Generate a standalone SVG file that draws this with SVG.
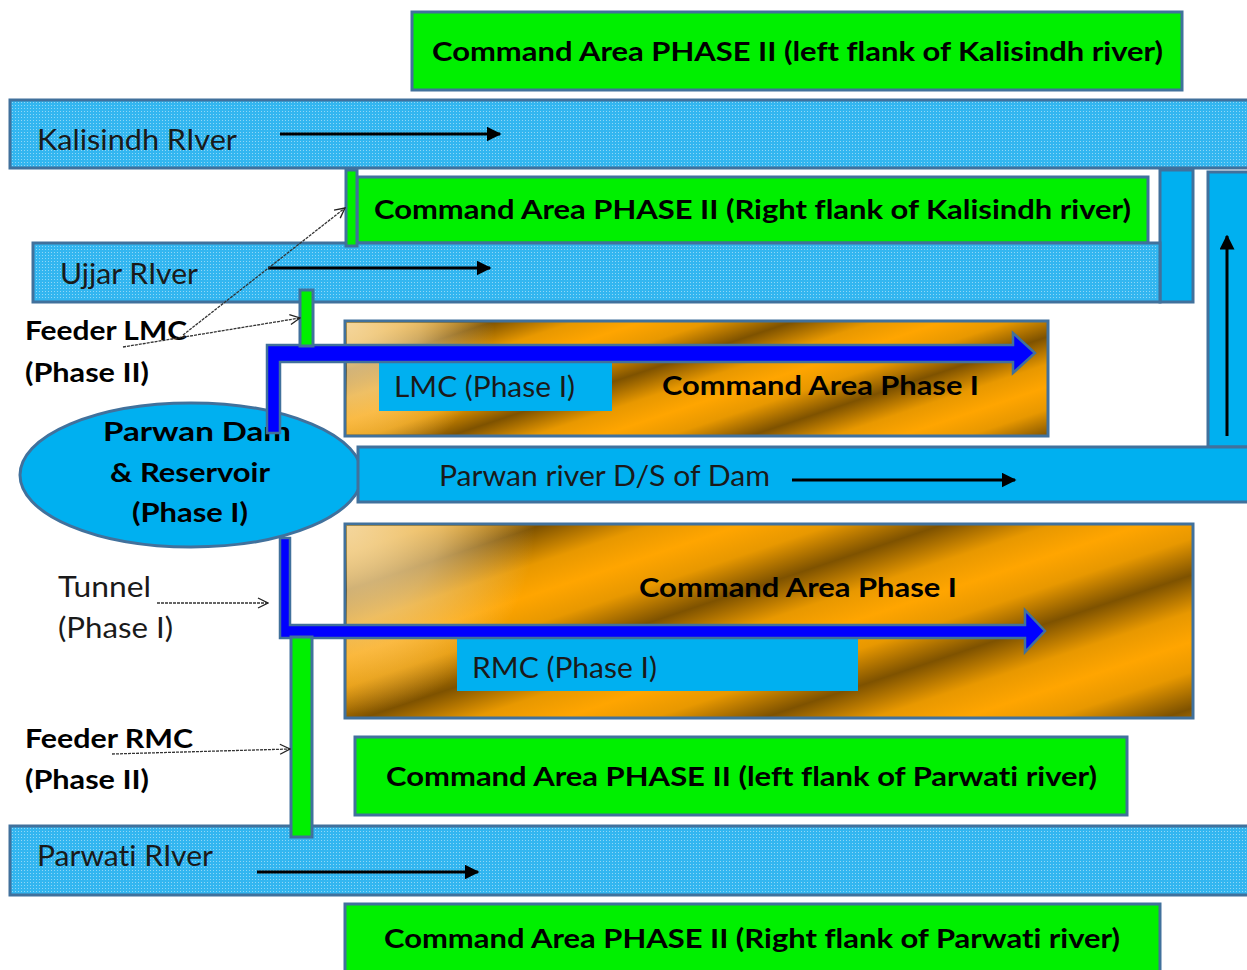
<svg xmlns="http://www.w3.org/2000/svg" width="1247" height="970" viewBox="0 0 1247 970">
<defs>
<pattern id="dots" width="3" height="3" patternUnits="userSpaceOnUse">
<rect x="0" y="0" width="1" height="1" fill="#FFFFFF" fill-opacity="0.45"/>
</pattern>
<linearGradient id="gold1" gradientUnits="userSpaceOnUse" x1="345" y1="321" x2="360" y2="366" spreadMethod="reflect">
<stop offset="0" stop-color="#FFA500"/>
<stop offset="0.45" stop-color="#E89800"/>
<stop offset="1" stop-color="#7E5200"/>
</linearGradient>
<linearGradient id="gold2" gradientUnits="userSpaceOnUse" x1="345" y1="524" x2="365" y2="584" spreadMethod="reflect">
<stop offset="0" stop-color="#FFA500"/>
<stop offset="0.45" stop-color="#E89800"/>
<stop offset="1" stop-color="#7E5200"/>
</linearGradient>
<radialGradient id="pale1" gradientUnits="userSpaceOnUse" cx="345" cy="321" r="150">
<stop offset="0" stop-color="#F3D9A6" stop-opacity="0.95"/>
<stop offset="0.5" stop-color="#F3D9A6" stop-opacity="0.6"/>
<stop offset="1" stop-color="#F3D9A6" stop-opacity="0"/>
</radialGradient>
<radialGradient id="pale2" gradientUnits="userSpaceOnUse" cx="345" cy="524" r="190">
<stop offset="0" stop-color="#F3D9A6" stop-opacity="0.95"/>
<stop offset="0.5" stop-color="#F3D9A6" stop-opacity="0.6"/>
<stop offset="1" stop-color="#F3D9A6" stop-opacity="0"/>
</radialGradient>
<marker id="ah" viewBox="0 0 10 10" refX="9" refY="5" markerWidth="5" markerHeight="5" orient="auto" markerUnits="strokeWidth">
<path d="M0,0 L10,5 L0,10 Z" fill="#000"/>
</marker>
<marker id="open" viewBox="0 0 12 12" refX="11" refY="6" markerWidth="12" markerHeight="12" orient="auto" markerUnits="userSpaceOnUse">
<path d="M1,1 L11,6 L1,11" fill="none" stroke="#222" stroke-width="1.3"/>
</marker>
<style>
.bx{stroke:#41719C;stroke-width:3}
.green{fill:#00F000}
.river{fill:#33B6F0}
.tex{fill:url(#dots)}
.solid{fill:#00B0F0}
.canal{fill:#0000FF;stroke:#41719C;stroke-width:2.5}
.t{font-family:Lato,"Liberation Sans",sans-serif;fill:#000;font-variant-ligatures:none}
.b{font-weight:bold}
.big{font-size:27px}
.reg{font-size:28px;fill:#1a1a1a}
.flow{stroke:#000;stroke-width:3;fill:none;marker-end:url(#ah)}
.lbl{stroke:#333;stroke-width:1.3;fill:none;stroke-dasharray:3 1;marker-end:url(#open)}
</style>
</defs>
<rect width="1247" height="970" fill="#fff"/>

<g id="ca-left-kalisindh">
<rect class="bx green" x="412" y="12" width="770" height="78"/>
<text class="t b big" x="432" y="61" textLength="731" lengthAdjust="spacingAndGlyphs">Command Area PHASE II (left flank of Kalisindh river)</text>
</g>

<g id="kalisindh-river">
<rect class="bx river" x="10" y="100" width="1250" height="68"/>
<rect class="tex" x="12" y="102" width="1246" height="64"/>
<text class="t reg" x="37" y="150" textLength="200" lengthAdjust="spacingAndGlyphs">Kalisindh RIver</text>
</g>

<g id="kalisindh-link">
<rect class="bx solid" x="1160" y="170" width="33" height="132"/>
</g>

<g id="right-river">
<rect class="bx solid" x="1208" y="172" width="45" height="275"/>
</g>

<g id="ca-right-kalisindh">
<rect class="bx green" x="357" y="177" width="791" height="66"/>
<text class="t b big" x="374" y="219" textLength="757" lengthAdjust="spacingAndGlyphs">Command Area PHASE II (Right flank of Kalisindh river)</text>
</g>

<g id="ujjar-river">
<rect class="bx river" x="33" y="243" width="1127" height="59"/>
<rect class="tex" x="35" y="245" width="1123" height="55"/>
<text class="t reg" x="60" y="284" textLength="138" lengthAdjust="spacingAndGlyphs">Ujjar RIver</text>
</g>

<g id="feeder-lmc-kalisindh-bar">
<rect class="bx green" x="346" y="170" width="11" height="76"/>
</g>

<g id="ca-phase1-lmc">
<rect class="bx" x="345" y="321" width="703" height="115" fill="url(#gold1)"/>
<rect x="347" y="323" width="200" height="111" fill="url(#pale1)"/>
<text class="t b big" x="662" y="395" textLength="317" lengthAdjust="spacingAndGlyphs">Command Area Phase I</text>
</g>

<g id="lmc-label">
<rect class="solid" x="379" y="358" width="233" height="53"/>
<text class="t reg" x="394" y="397" textLength="181" lengthAdjust="spacingAndGlyphs">LMC (Phase I)</text>
</g>

<g id="ca-phase1-rmc">
<rect class="bx" x="345" y="524" width="848" height="194" fill="url(#gold2)"/>
<rect x="347" y="526" width="240" height="190" fill="url(#pale2)"/>
<text class="t b big" x="639" y="597" textLength="318" lengthAdjust="spacingAndGlyphs">Command Area Phase I</text>
</g>

<g id="rmc-label">
<rect class="solid" x="457" y="637" width="401" height="54"/>
<text class="t reg" x="472" y="678" textLength="185" lengthAdjust="spacingAndGlyphs">RMC (Phase I)</text>
</g>

<g id="parwan-dam">
<ellipse class="bx solid" cx="191" cy="475" rx="171" ry="72"/>
<text class="t b big" x="103" y="441" textLength="188" lengthAdjust="spacingAndGlyphs">Parwan Dam</text>
<text class="t b big" x="110" y="482" textLength="160" lengthAdjust="spacingAndGlyphs">&amp; Reservoir</text>
<text class="t b big" x="132" y="522" textLength="116" lengthAdjust="spacingAndGlyphs">(Phase I)</text>
</g>

<g id="parwan-river">
<rect class="bx solid" x="358" y="447" width="895" height="55"/>
<text class="t reg" x="439" y="486" textLength="331" lengthAdjust="spacingAndGlyphs">Parwan river D/S of Dam</text>
</g>

<g id="lmc-canal">
<path class="canal" d="M267,433 L267,345 L1013,345 L1013,333 L1035,353 L1013,373 L1013,362 L280,362 L280,433 Z"/>
</g>

<g id="feeder-lmc">
<rect class="bx green" x="300" y="290" width="13" height="56"/>
</g>

<g id="rmc-canal">
<path class="canal" d="M280,538 L290,538 L290,625 L1025,625 L1025,610 L1045,631 L1025,652 L1025,638 L280,638 Z"/>
</g>

<g id="ca-left-parwati">
<rect class="bx green" x="355" y="737" width="772" height="78"/>
<text class="t b big" x="386" y="786" textLength="711" lengthAdjust="spacingAndGlyphs">Command Area PHASE II (left flank of Parwati river)</text>
</g>

<g id="parwati-river">
<rect class="bx river" x="10" y="826" width="1250" height="69"/>
<rect class="tex" x="12" y="828" width="1246" height="65"/>
<text class="t reg" x="37" y="866" textLength="176" lengthAdjust="spacingAndGlyphs">Parwati RIver</text>
</g>

<g id="feeder-rmc">
<rect class="bx green" x="291" y="637" width="21" height="200"/>
</g>

<g id="ca-right-parwati">
<rect class="bx green" x="345" y="904" width="815" height="75"/>
<text class="t b big" x="384" y="948" textLength="736" lengthAdjust="spacingAndGlyphs">Command Area PHASE II (Right flank of Parwati river)</text>
</g>

<g id="labels">
<text class="t b big" x="25" y="340" textLength="162" lengthAdjust="spacingAndGlyphs">Feeder LMC</text>
<text class="t b big" x="25" y="382" textLength="124" lengthAdjust="spacingAndGlyphs">(Phase II)</text>
<text class="t reg" x="58" y="597" textLength="93" lengthAdjust="spacingAndGlyphs">Tunnel</text>
<text class="t reg" x="58" y="638" textLength="115" lengthAdjust="spacingAndGlyphs">(Phase I)</text>
<text class="t b big" x="25" y="748" textLength="168" lengthAdjust="spacingAndGlyphs">Feeder RMC</text>
<text class="t b big" x="25" y="789" textLength="124" lengthAdjust="spacingAndGlyphs">(Phase II)</text>
</g>

<g id="connectors">
<line class="flow" x1="280" y1="134" x2="500" y2="134"/>
<line class="flow" x1="268" y1="268" x2="490" y2="268"/>
<line class="flow" x1="792" y1="480" x2="1015" y2="480"/>
<line class="flow" x1="257" y1="872" x2="478" y2="872"/>
<line class="flow" x1="1227" y1="436" x2="1227" y2="236"/>
<line class="lbl" x1="123" y1="347" x2="300" y2="318"/>
<line class="lbl" x1="183" y1="335" x2="345" y2="208"/>
<line class="lbl" x1="157" y1="603" x2="268" y2="603"/>
<line class="lbl" x1="112" y1="754" x2="290" y2="749"/>
</g>
</svg>
